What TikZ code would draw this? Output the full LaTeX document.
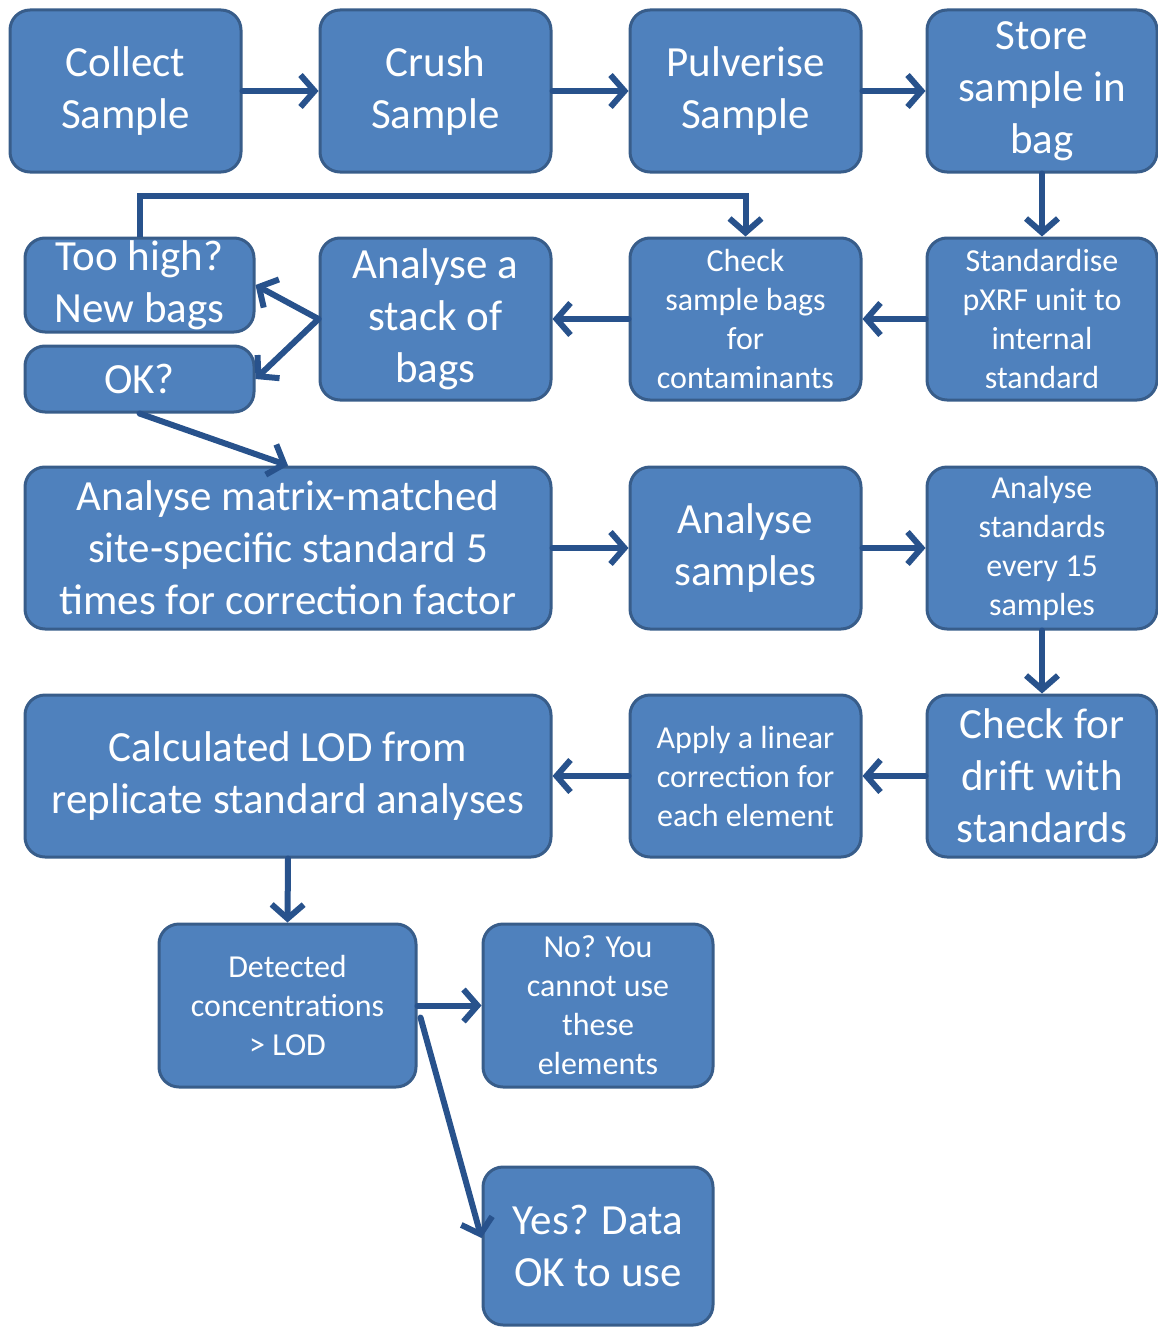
\documentclass[tikz,border=0pt]{standalone}
\usepackage{fontspec}
\setmainfont{Carlito}
\usetikzlibrary{arrows.meta,calc}
\definecolor{boxfill}{HTML}{4F81BD}
\definecolor{boxline}{HTML}{385D8A}
\definecolor{arrowc}{HTML}{28528C}
\begin{document}
\begin{tikzpicture}[x=1pt,y=-1pt,
  box/.style={draw=boxline, line width=3pt, fill=boxfill, rounded corners=20pt,
    text=white, align=center, inner sep=0pt},
  big/.style={font=\fontsize{43}{52}\selectfont},
  small/.style={font=\fontsize{32}{39}\selectfont},
  flow/.style={draw=arrowc, line width=6pt, line cap=round,
    -{Straight Barb[length=14pt,width=32pt]}}
]
\useasboundingbox (0,0) rectangle (1158,1327);
% row 1
\node[box,big,minimum width=231pt,minimum height=162pt] (collect) at (125.5,91) {Collect\\Sample};
\node[box,big,minimum width=231pt,minimum height=162pt] (crush) at (435.5,91) {Crush\\Sample};
\node[box,big,minimum width=231pt,minimum height=162pt] (pulv) at (745.5,91) {Pulverise\\Sample};
\node[box,big,minimum width=230pt,minimum height=162pt] (store) at (1042,91) {Store\\sample in\\bag};
% row 2
\node[box,big,minimum width=229pt,minimum height=94pt] (toohigh) at (139.5,285) {Too high?\\New bags};
\node[box,big,minimum width=229pt,minimum height=66pt] (ok) at (139.5,379) {OK?};
\node[box,big,minimum width=231pt,minimum height=162pt] (stack) at (435.5,319) {Analyse a\\stack of\\bags};
\node[box,small,minimum width=231pt,minimum height=162pt] (check) at (745.5,319) {Check\\sample bags\\for\\contaminants};
\node[box,small,minimum width=230pt,minimum height=162pt] (stand) at (1042,319) {Standardise\\pXRF unit to\\internal\\standard};
% row 3
\node[box,big,minimum width=526pt,minimum height=162pt] (matrix) at (288,548) {Analyse matrix-matched\\site-specific standard 5\\times for correction factor};
\node[box,big,minimum width=231pt,minimum height=162pt] (asamples) at (745.5,548) {Analyse\\samples};
\node[box,small,minimum width=230pt,minimum height=162pt] (astd) at (1042,548) {Analyse\\standards\\every 15\\samples};
% row 4
\node[box,big,minimum width=526pt,minimum height=162pt] (lod) at (288,776) {Calculated LOD from\\replicate standard analyses};
\node[box,small,minimum width=231pt,minimum height=162pt] (apply) at (745.5,776) {Apply a linear\\correction for\\each element};
\node[box,big,minimum width=230pt,minimum height=162pt] (drift) at (1042,776) {Check for\\drift with\\standards};
% row 5
\node[box,small,minimum width=257pt,minimum height=163pt] (detected) at (287.5,1005.5) {Detected\\concentrations\\> LOD};
\node[box,small,minimum width=230pt,minimum height=163pt] (no) at (598,1005.5) {No? You\\cannot use\\these\\elements};
\node[box,big,minimum width=230pt,minimum height=158pt] (yes) at (598,1246) {Yes? Data\\OK to use};
% connectors
\draw[flow] (collect.east) -- (crush.west);
\draw[flow] (crush.east) -- (pulv.west);
\draw[flow] (pulv.east) -- (store.west);
\draw[flow] (store.south) -- (stand.north);
\draw[flow] (stand.west) -- (check.east);
\draw[flow] (check.west) -- (stack.east);
\draw[flow] (stack.west) -- (toohigh.east);
\draw[flow] (stack.west) -- (ok.east);
\coordinate (loop) at (745.5,196);
\draw[flow, line cap=butt] (toohigh.north) |- (loop) -- (check.north);
\draw[flow] (ok.south) -- (matrix.north);
\draw[flow] (matrix.east) -- (asamples.west);
\draw[flow] (asamples.east) -- (astd.west);
\draw[flow] (astd.south) -- (drift.north);
\draw[flow] (drift.west) -- (apply.east);
\draw[flow] (apply.west) -- (lod.east);
\draw[flow] (lod.south) -- (detected.north);
\draw[flow] (detected.east) -- (no.west);
\draw[flow] ($(detected.east)+(3,12)$) -- ($(yes.west)+(0,-8)$);
\end{tikzpicture}
\end{document}
